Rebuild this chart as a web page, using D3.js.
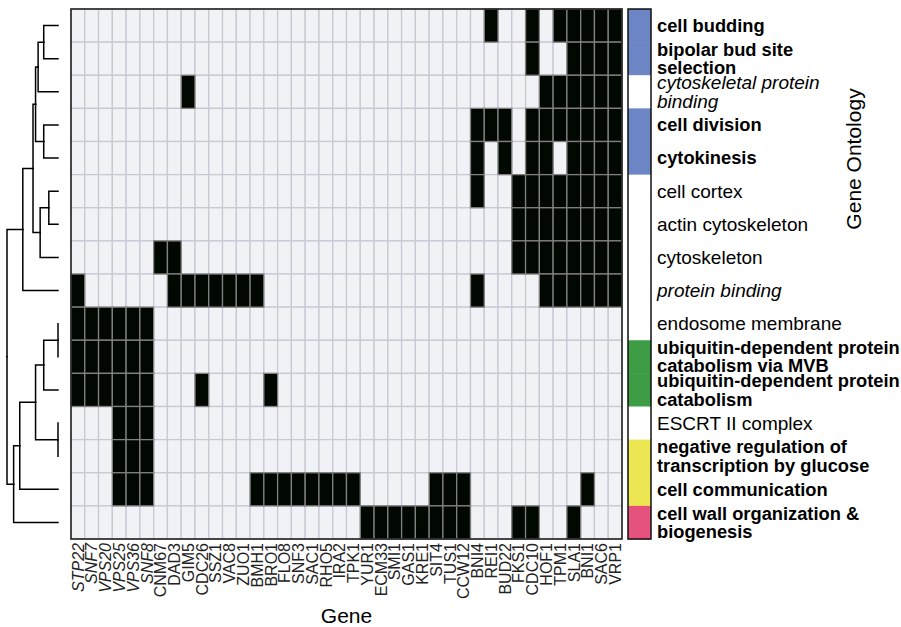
<!DOCTYPE html>
<html>
<head>
<meta charset="utf-8">
<script src="https://cdn.jsdelivr.net/npm/d3@7"></script>
<style>
  body { margin: 0; background: #fff; }
  svg { display: block; font-family: "Liberation Sans", Arial, Helvetica, sans-serif; }
</style>
</head>
<body>
<div id="chart"></div>
<script>
// genes (columns), left to right
const genes = ['STP22','SNF7','VPS20','VPS25','VPS36','SNF8','CNM67','DAD3','GIM5','CDC26',
  'SSZ1','VAC8','ZUO1','BMH1','BRO1','FLO8','SNF3','SAC1','RHO5','IRA2','TPK1','YUR1',
  'ECM33','SMI1','GAS1','KRE1','SIT4','TUS1','CCW12','BNI4','REI1','BUD22','FKS1','CDC10',
  'HOF1','TPM1','SLA1','BNI1','SAC6','VRP1'];
const italicGenes = ['STP22','SNF7','VPS20','VPS25','VPS36','SNF8'];

// GO terms (rows), top to bottom
const terms = ['cell budding', 'bipolar bud site\nselection', 'cytoskeletal protein\nbinding',
  'cell division', 'cytokinesis', 'cell cortex', 'actin cytoskeleton', 'cytoskeleton',
  'protein binding', 'endosome membrane', 'ubiquitin-dependent protein\ncatabolism via MVB',
  'ubiquitin-dependent protein\ncatabolism', 'ESCRT II complex',
  'negative regulation of\ntranscription by glucose', 'cell communication',
  'cell wall organization &\nbiogenesis'];
const termFace = ['bold','bold','italic','bold','bold','normal','normal','normal','italic',
  'normal','bold','bold','normal','bold','bold','bold'];
const termColor = ['#6b85c5','#6b85c5',null,'#6b85c5','#6b85c5',null,null,null,null,
  null,'#3e9c45','#3e9c45',null,'#ece653','#ece653','#e5527d'];

// genes annotated with each term
const membership = [
  ['REI1','CDC10','TPM1','SLA1','BNI1','SAC6','VRP1'],
  ['CDC10','SLA1','BNI1','SAC6','VRP1'],
  ['GIM5','HOF1','TPM1','SLA1','BNI1','SAC6','VRP1'],
  ['BNI4','REI1','BUD22','CDC10','HOF1','TPM1','SLA1','BNI1','SAC6','VRP1'],
  ['BNI4','BUD22','CDC10','HOF1','SLA1','BNI1','SAC6','VRP1'],
  ['BNI4','FKS1','CDC10','HOF1','TPM1','SLA1','BNI1','SAC6','VRP1'],
  ['FKS1','CDC10','HOF1','TPM1','SLA1','BNI1','SAC6','VRP1'],
  ['CNM67','DAD3','FKS1','CDC10','HOF1','TPM1','SLA1','BNI1','SAC6','VRP1'],
  ['STP22','DAD3','GIM5','CDC26','SSZ1','VAC8','ZUO1','BMH1','BNI4','HOF1','TPM1','SLA1','BNI1','SAC6','VRP1'],
  ['STP22','SNF7','VPS20','VPS25','VPS36','SNF8'],
  ['STP22','SNF7','VPS20','VPS25','VPS36','SNF8'],
  ['STP22','SNF7','VPS20','VPS25','VPS36','SNF8','CDC26','BRO1'],
  ['VPS25','VPS36','SNF8'],
  ['VPS25','VPS36','SNF8'],
  ['VPS25','VPS36','SNF8','BMH1','BRO1','FLO8','SNF3','SAC1','RHO5','IRA2','TPK1','SIT4','TUS1','CCW12','BNI1'],
  ['YUR1','ECM33','SMI1','GAS1','KRE1','SIT4','TUS1','CCW12','FKS1','CDC10','SLA1']
];

// row clustering: [left, right, height]; numbers are rows, 'mN' is merge N
const merges = [
  [0, 1, 0.28], ['m0', 2, 0.39], [3, 4, 0.28], ['m1', 'm2', 0.44],
  [5, 6, 0.18], ['m4', 7, 0.35], ['m3', 'm5', 0.49], ['m6', 8, 0.69],
  [9, 10, 0], ['m8', 11, 0.28], [12, 13, 0], ['m9', 'm10', 0.44],
  ['m11', 14, 0.75], ['m12', 15, 0.87], ['m7', 'm13', 1.0]
];

const width = 901, height = 627;
const gTop = 9, gBottom = 539, gLeft = 71, gRight = 622;

const svg = d3.select('#chart').append('svg')
  .attr('width', width)
  .attr('height', height);

const x = d3.scaleBand().domain(genes).range([gLeft, gRight]);
const y = d3.scaleBand().domain(terms).range([gTop, gBottom]);

let cells = [];
terms.forEach((t, i) => {
  genes.forEach(g => cells.push({term: t, gene: g, on: membership[i].includes(g)}));
});
//light tiles first so black tiles sit on top
cells.sort((a, b) => a.on - b.on);

svg.append('g')
  .selectAll('rect')
  .data(cells)
  .enter().append('rect')
  .attr('x', d => x(d.gene))
  .attr('y', d => y(d.term))
  .attr('width', x.bandwidth())
  .attr('height', y.bandwidth())
  .attr('fill', d => d.on ? '#010801' : '#f1f2f5')
  .attr('stroke', d => d.on ? '#808080' : '#c8c9d3')
  .attr('stroke-width', 1.3);

svg.append('rect')
  .attr('x', gLeft).attr('y', gTop)
  .attr('width', gRight - gLeft).attr('height', gBottom - gTop)
  .attr('fill', 'none').attr('stroke', '#222').attr('stroke-width', 1.6);

// GO category colour bar
const barX = 628, barW = 23;
svg.append('g')
  .selectAll('rect')
  .data(terms)
  .enter().append('rect')
  .attr('x', barX)
  .attr('y', d => y(d))
  .attr('width', barW)
  .attr('height', y.bandwidth() + 0.5)
  .attr('fill', (d, i) => termColor[i] || '#fff');

svg.append('rect')
  .attr('x', barX).attr('y', gTop)
  .attr('width', barW).attr('height', gBottom - gTop)
  .attr('fill', 'none').attr('stroke', '#111').attr('stroke-width', 1.5);

// term labels
const lineH = 18.5;
svg.append('g')
  .selectAll('text')
  .data(terms)
  .enter().append('text')
  .attr('x', 657)
  .attr('font-size', (d, i) => termFace[i] === 'bold' ? 18.3 : 19)
  .attr('font-weight', (d, i) => termFace[i] === 'bold' ? 'bold' : 'normal')
  .attr('font-style', (d, i) => termFace[i] === 'italic' ? 'italic' : 'normal')
  .attr('fill', '#000')
  .each(function(d) {
    let lines = d.split('\n');
    let cy = y(d) + y.bandwidth() / 2;
    lines.forEach((l, k) => {
      d3.select(this).append('tspan')
        .attr('x', 657)
        .attr('y', cy + (k - (lines.length - 1) / 2) * lineH)
        .attr('dy', '0.35em')
        .text(l);
    });
  });

// gene labels
svg.append('g')
  .selectAll('text')
  .data(genes)
  .enter().append('text')
  .attr('transform', d => `translate(${x(d) + x.bandwidth() / 2},543) rotate(-90)`)
  .attr('text-anchor', 'end')
  .attr('dy', '0.36em')
  .attr('font-size', 16)
  .attr('font-style', d => italicGenes.includes(d) ? 'italic' : 'normal')
  .attr('fill', '#222')
  .text(d => d);

// axis titles
svg.append('text')
  .attr('x', (gLeft + gRight) / 2).attr('y', 623)
  .attr('text-anchor', 'middle')
  .attr('font-size', 21)
  .text('Gene');

svg.append('text')
  .attr('transform', 'translate(861,159) rotate(-90)')
  .attr('text-anchor', 'middle')
  .attr('font-size', 21)
  .text('Gene Ontology');

// dendrogram
function build(ref) {
  if (typeof ref === 'number') return {row: ref, h: 0};
  let m = merges[+ref.slice(1)];
  return {h: m[2], children: [build(m[0]), build(m[1])]};
}
let root = d3.hierarchy(build('m' + (merges.length - 1)));
d3.cluster().size([gBottom - gTop, 1]).separation(() => 1)(root);

let hx = d3.scaleLinear().domain([0, 1]).range([58, 7]);

svg.append('g')
  .selectAll('path')
  .data(root.links())
  .enter().append('path')
  .attr('d', l => `M${hx(l.target.data.h)},${l.target.x + gTop}H${hx(l.source.data.h)}V${l.source.x + gTop}`)
  .attr('fill', 'none')
  .attr('stroke', '#000')
  .attr('stroke-width', 1.5)
  .attr('stroke-linecap', 'square');
</script>
</body>
</html>
